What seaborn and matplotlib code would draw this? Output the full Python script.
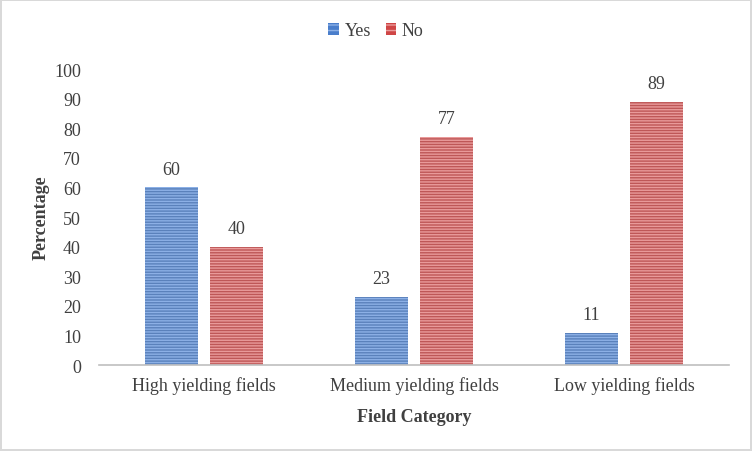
import numpy as np
import pandas as pd
import matplotlib.pyplot as plt
import seaborn as sns
from matplotlib.patches import Patch

# Data
categories = ['High yielding fields', 'Medium yielding fields', 'Low yielding fields']
yes_values = [60, 23, 11]
no_values = [40, 77, 89]

df = pd.DataFrame({
    'Field Category': categories * 2,
    'Percentage': yes_values + no_values,
    'Answer': ['Yes'] * 3 + ['No'] * 3,
})

sns.set_style('white')
plt.rcParams['font.family'] = ['Liberation Serif', 'DejaVu Serif']
plt.rcParams['hatch.linewidth'] = 1.0

fills = {'Yes': '#4a7ecb', 'No': '#cf4646'}
stripes = {'Yes': '#8cb0e6', 'No': '#e99a9a'}
fs = 13

fig = plt.figure(figsize=(7.52, 4.52), dpi=100, edgecolor='#d9d9d9', linewidth=1.5)
ax = fig.add_axes([0.1316, 0.19, 0.838, 0.655])

sns.barplot(data=df, x='Field Category', y='Percentage', hue='Answer',
            hue_order=['Yes', 'No'], palette=fills, width=0.619, gap=0.185,
            ax=ax, legend=False)

for cont, name in zip(ax.containers, ['Yes', 'No']):
    for bar in cont:
        bar.set_hatch('------')
        bar.set_edgecolor(stripes[name])
        bar.set_linewidth(0)
    ax.bar_label(cont, padding=7, fontsize=fs, color='#404040')

ax.set_ylim(0, 100)
ax.set_xlim(-0.5, 2.5)
ax.set_yticks(np.arange(0, 101, 10))
ax.tick_params(axis='both', length=0, labelsize=fs, colors='#404040')
ax.tick_params(axis='y', pad=13)
ax.tick_params(axis='x', pad=8)
ax.set_ylabel('Percentage', fontsize=fs, fontweight='bold', color='#404040', labelpad=3)
ax.set_xlabel('Field Category', fontsize=fs, fontweight='bold', color='#404040', labelpad=10)

for side in ['top', 'right', 'left']:
    ax.spines[side].set_visible(False)
ax.spines['bottom'].set_color('#bfbfbf')
ax.spines['bottom'].set_linewidth(1.2)

handles = [Patch(facecolor=fills[k], edgecolor=stripes[k], hatch='---', linewidth=0, label=k)
           for k in ['Yes', 'No']]
fig.legend(handles=handles, loc='center', bbox_to_anchor=(0.5, 0.93), ncol=2,
           frameon=False, fontsize=fs, handlelength=0.6, handleheight=0.6,
           handletextpad=0.3, columnspacing=0.8, labelcolor='#404040')

fig.savefig('out.png', dpi=100, edgecolor=fig.get_edgecolor())
